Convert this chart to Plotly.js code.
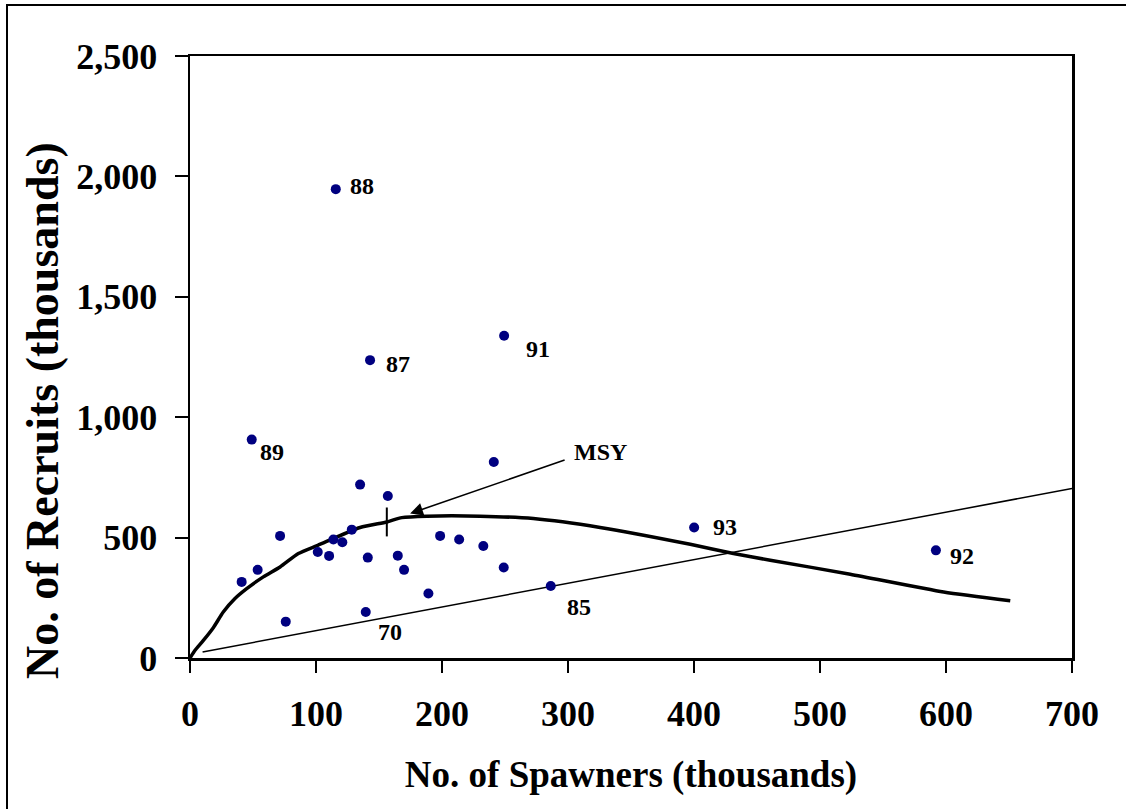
<!DOCTYPE html>
<html>
<head>
<meta charset="utf-8">
<script src="https://cdn.plot.ly/plotly-3.0.1.min.js"></script>
<style>
html, body { margin: 0; padding: 0; overflow: hidden; background: #fff; }
#frame { position: absolute; left: 6px; top: 4px; width: 1140px; height: 830px; border: 2.5px solid #000; box-sizing: border-box; }
#chart { position: absolute; left: 0; top: 0; width: 1126px; height: 809px; }
</style>
</head>
<body>
<div id="frame"></div>
<div id="chart"></div>
<script>
// Observed spawner-recruit pairs (thousands)
const spawners = [49.0, 135.0, 157.0, 71.5, 128.4, 113.8, 120.9, 101.4, 110.4, 141.1, 164.9, 169.9, 53.7, 41.0, 76.0, 139.5, 189.2, 198.5, 213.6, 232.8, 249.0, 286.3, 400.1, 241.1, 592.0, 115.7, 142.9, 249.3];
const recruits = [907, 720, 673, 507, 533, 492, 481, 440, 424, 417, 425, 366, 366, 316, 151, 191, 268, 507, 492, 465, 376, 299, 542, 814, 447, 1947, 1237, 1338];
const years    = ['89', '', '', '', '', '', '', '', '', '', '', '', '', '', '', '70', '', '', '', '', '', '85', '93', '', '92', '88', '87', '91'];

// Fitted stock-recruit curve
const curveS = [0, 4.0, 10.6, 18.5, 26.4, 35.7, 45.0, 58.2, 71.5, 86.0, 101.4, 135.0, 156.2, 168.1, 187.9, 230.2, 272.5, 325.5, 397.0, 431.3, 460.5, 524.0, 598.1, 651.0];
const curveR = [0, 32, 73, 126, 191, 247, 288, 337, 378, 434, 468, 542, 565, 583, 589, 589, 579, 542, 472, 434, 406, 348, 274, 238];

// Replacement line
const replS = [10, 700];
const replR = [25, 704];

// MSY
const msyS = 156.2;
const msyR = 565;
const msyArrowTip = {S: 174.7, R: 600};
const msyArrowTail = {S: 298.5, R: 824};
const msyLabelPos = {S: 326, R: 855};

// tick values
const xTicks = [0, 100, 200, 300, 400, 500, 600, 700];
const yTicks = [0, 500, 1000, 1500, 2000, 2500];

const xTitle = 'No. of Spawners (thousands)';
const yTitle = 'No. of Recruits (thousands)';

const serif = 'Liberation Serif, Times New Roman, serif';

// label offsets (pixels) relative to the point
const labelOffsets = {
  '88': [26, 3], '87': [28, -4], '91': [34, -13], '89': [20, -12],
  '93': [31, 0], '92': [26, -6], '85': [28, -21], '70': [24, -20]
};

const traces = [
  {x: replS, y: replR, mode: 'lines', line: {color: '#000', width: 1.5}, hoverinfo: 'skip'},
  {x: curveS, y: curveR, mode: 'lines', line: {color: '#000', width: 3.5, shape: 'spline', smoothing: 0.6}, hoverinfo: 'skip'},
  {x: spawners, y: recruits, mode: 'markers', marker: {color: '#000080', size: 10}}
];

const annotations = [];
years.forEach((yr, i) => {
  if (!yr) return;
  const off = labelOffsets[yr];
  annotations.push({
    x: spawners[i], y: recruits[i], xref: 'x', yref: 'y', text: yr, showarrow: false,
    xshift: off[0], yshift: off[1],
    font: {family: serif, size: 24, color: '#000', weight: 'bold'}
  });
});
annotations.push({
  x: msyArrowTip.S, y: msyArrowTip.R, ax: msyArrowTail.S, ay: msyArrowTail.R,
  xref: 'x', yref: 'y', axref: 'x', ayref: 'y', text: '', showarrow: true,
  arrowhead: 2, arrowsize: 1.6, arrowwidth: 1.6, arrowcolor: '#000'
});
annotations.push({
  x: msyLabelPos.S, y: msyLabelPos.R, xref: 'x', yref: 'y', text: 'MSY', showarrow: false,
  font: {family: serif, size: 24, color: '#000', weight: 'bold'}
});
// y-axis title (placed as rotated annotation)
annotations.push({
  x: -0.1667, y: 0.412, xref: 'paper', yref: 'paper', xanchor: 'center', yanchor: 'middle',
  text: yTitle, textangle: -90, showarrow: false,
  font: {family: serif, size: 46, color: '#000', weight: 'bold'}
});

const layout = {
  width: 1126, height: 809,
  margin: {l: 190, r: 54, t: 56, b: 151},
  paper_bgcolor: 'rgba(0,0,0,0)', plot_bgcolor: '#fff',
  showlegend: false,
  xaxis: {
    range: [0, 700], tickvals: xTicks, ticks: 'outside', ticklen: 12, tickwidth: 2, tickcolor: '#000',
    showline: true, linecolor: '#000', linewidth: 2.5, mirror: true, showgrid: false, zeroline: false,
    ticklabelstandoff: 10,
    tickfont: {family: serif, size: 36, color: '#000', weight: 'bold'},
    title: {text: xTitle, font: {family: serif, size: 37, color: '#000', weight: 'bold'}, standoff: 29}
  },
  yaxis: {
    range: [0, 2500], tickvals: yTicks, tickformat: ',d', ticks: 'outside', ticklen: 13, tickwidth: 2, tickcolor: '#000',
    showline: true, linecolor: '#000', linewidth: 2.5, mirror: true, showgrid: false, zeroline: false,
    ticklabelstandoff: 10,
    tickfont: {family: serif, size: 36, color: '#000', weight: 'bold'}
  },
  shapes: [
    {type: 'line', xref: 'x', yref: 'y', x0: msyS, x1: msyS, y0: msyR - 60, y1: msyR + 60, line: {color: '#000', width: 2}}
  ],
  annotations: annotations
};

Plotly.newPlot('chart', traces, layout, {displayModeBar: false, staticPlot: true});
</script>
</body>
</html>
